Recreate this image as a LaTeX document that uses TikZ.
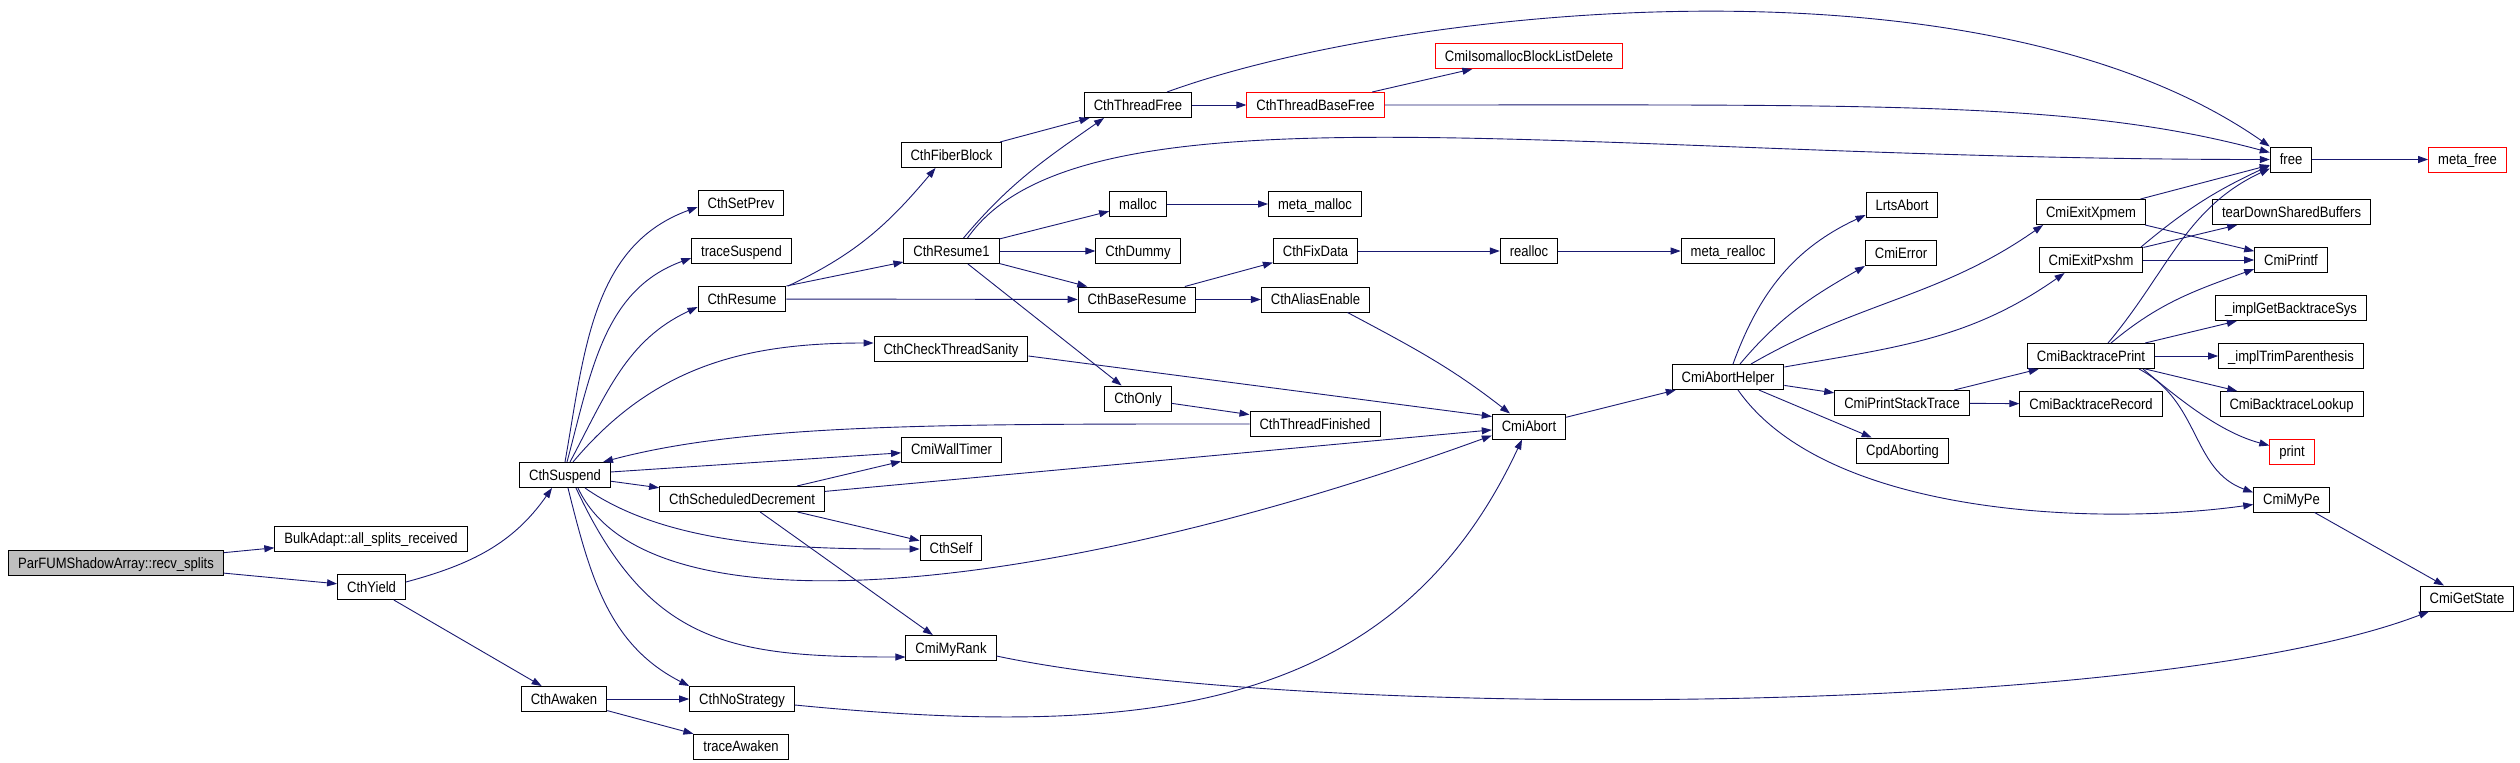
\documentclass[tikz,border=0pt]{standalone}
\usepackage{fontspec}
\setmainfont{Liberation Sans}[FakeStretch=0.87]
\usetikzlibrary{arrows.meta}
\definecolor{callblue}{RGB}{25,25,112}
\definecolor{rootgray}{RGB}{191,191,191}

\begin{document}
\begin{tikzpicture}[x=1pt, y=1pt, >={Triangle[length=10pt,width=7pt]}]
\tikzstyle{every node}=[rectangle, draw, line width=1pt, minimum height=25pt, inner xsep=9.5pt, inner ysep=0pt, text height=10.7pt, text depth=0pt, font=\fontsize{15}{18}\selectfont]
\tikzstyle{call}=[->, draw=callblue, line width=0.9pt]
\useasboundingbox (0,0) rectangle (2520,-763);
% functions, column by column
\draw node[fill=rootgray] (parfum) at (116,-563) {ParFUMShadowArray::recv\_splits};
\draw node (bulk) at (371,-538.5) {BulkAdapt::all\_splits\_received};
\draw node (yield) at (371.5,-587) {CthYield};
\draw node (suspend) at (565,-475) {CthSuspend};
\draw node (awaken) at (564,-699) {CthAwaken};
\draw node (setprev) at (741,-203) {CthSetPrev};
\draw node (tracesuspend) at (741.5,-251) {traceSuspend};
\draw node (resume) at (742,-299) {CthResume};
\draw node (sdecrement) at (742,-499) {CthScheduledDecrement};
\draw node (nostrategy) at (742,-699) {CthNoStrategy};
\draw node (traceawaken) at (741,-746.5) {traceAwaken};
\draw node (fiberblock) at (951.5,-155) {CthFiberBlock};
\draw node (resume1) at (951.5,-251) {CthResume1};
\draw node (sanity) at (951,-349) {CthCheckThreadSanity};
\draw node (walltimer) at (951.5,-449.5) {CmiWallTimer};
\draw node (cthself) at (951,-548) {CthSelf};
\draw node (myrank) at (951,-648) {CmiMyRank};
\draw node (threadfree) at (1138,-105) {CthThreadFree};
\draw node (malloc) at (1138,-204) {malloc};
\draw node (dummy) at (1138,-251) {CthDummy};
\draw node (baseresume) at (1137,-299.5) {CthBaseResume};
\draw node (only) at (1138,-398.5) {CthOnly};
\draw node[draw=red] (basefree) at (1315.5,-105) {CthThreadBaseFree};
\draw node (metamalloc) at (1315,-204) {meta\_malloc};
\draw node (fixdata) at (1315.5,-251) {CthFixData};
\draw node (aliasenable) at (1315.5,-299.5) {CthAliasEnable};
\draw node (finished) at (1315,-424) {CthThreadFinished};
\draw node[draw=red] (isodelete) at (1529,-56) {CmiIsomallocBlockListDelete};
\draw node (realloc) at (1529,-251) {realloc};
\draw node (abort) at (1529,-426.5) {CmiAbort};
\draw node (metarealloc) at (1728,-251) {meta\_realloc};
\draw node (aborthelper) at (1728,-377) {CmiAbortHelper};
\draw node (lrtsabort) at (1902,-205) {LrtsAbort};
\draw node (cmierror) at (1901,-253) {CmiError};
\draw node (stacktrace) at (1902,-403) {CmiPrintStackTrace};
\draw node (cpdaborting) at (1902.5,-450.5) {CpdAborting};
\draw node (exitxpmem) at (2091,-212) {CmiExitXpmem};
\draw node (exitpxshm) at (2091,-260) {CmiExitPxshm};
\draw node (btprint) at (2091,-356) {CmiBacktracePrint};
\draw node (btrecord) at (2091,-404) {CmiBacktraceRecord};
\draw node (free) at (2291,-159.5) {free};
\draw node (teardown) at (2291.5,-212) {tearDownSharedBuffers};
\draw node (printf) at (2291,-260) {CmiPrintf};
\draw node (getbtsys) at (2291,-308) {\_implGetBacktraceSys};
\draw node (trimparen) at (2291,-356) {\_implTrimParenthesis};
\draw node (btlookup) at (2291.5,-404) {CmiBacktraceLookup};
\draw node[draw=red] (print) at (2292,-451.5) {print};
\draw node (mype) at (2291.5,-499.5) {CmiMyPe};
\draw node[draw=red] (metafree) at (2467.5,-159.5) {meta\_free};
\draw node (getstate) at (2467,-598.5) {CmiGetState};
% calls
\draw[call] (parfum) to (bulk);
\draw[call] (parfum) to (yield);
\draw[call] ([yshift=5pt]yield.east) to[out=15,in=-125] ([xshift=-13pt]suspend.south);
\draw[call] (yield) to (awaken);
\draw[call] (awaken) to (nostrategy);
\draw[call] (awaken) to (traceawaken);
\draw[call] (suspend.north) to[out=80,in=200] ([yshift=-4pt]setprev.west);
\draw[call] ([xshift=2pt]suspend.north) to[out=75,in=200] ([yshift=-7pt]tracesuspend.west);
\draw[call] ([xshift=5pt]suspend.north) to[out=62,in=205] ([yshift=-8pt]resume.west);
\draw[call] ([xshift=8pt]suspend.north) to[out=50,in=180] ([yshift=6pt]sanity.west);
\draw[call] (finished.west) .. controls +(180:300) and +(15:150) .. ([xshift=38pt]suspend.north);
\draw[call] (suspend) to (walltimer);
\draw[call] (suspend) to (sdecrement);
\draw[call] ([xshift=20pt]suspend.south) to[out=-35,in=180,looseness=0.8] ([yshift=-1pt]cthself.west);
\draw[call] ([xshift=13pt]suspend.south) .. controls +(-65:170) and +(200:450) .. ([yshift=-9pt]abort.west);
\draw[call] ([xshift=11pt]suspend.south) to[out=-65,in=180,looseness=1.2] ([yshift=-9pt]myrank.west);
\draw[call] ([xshift=3pt]suspend.south) to[out=-76,in=153] (nostrategy.north west);
\draw[call] ([xshift=46pt]resume.north) to[out=25,in=-130] ([xshift=-16pt]fiberblock.south);
\draw[call] (resume.north east) to ([yshift=-11pt]resume1.west);
\draw[call] (resume) to (baseresume);
\draw[call] (fiberblock) to (threadfree);
\draw[call] ([xshift=12pt]resume1.north) to[out=50,in=-145] ([xshift=-34pt]threadfree.south);
\draw[call] ([xshift=16pt]resume1.north) .. controls +(55:200) and +(180:700) .. (free.west);
\draw[call] (resume1) to (malloc);
\draw[call] (resume1) to (dummy);
\draw[call] (resume1) to (baseresume);
\draw[call] (resume1) to (only);
\draw[call] (threadfree) to (basefree);
\draw[call] ([xshift=29pt]threadfree.north) .. controls +(20:250) and +(145:350) .. (free.north west);
\draw[call] (basefree) to (isodelete);
\draw[call] (basefree.east) .. controls +(0:500) and +(165:200) .. ([yshift=7pt]free.west);
\draw[call] (baseresume) to (fixdata);
\draw[call] (baseresume) to (aliasenable);
\draw[call] (fixdata) to (realloc);
\draw[call] (realloc) to (metarealloc);
\draw[call] (malloc) to (metamalloc);
\draw[call] ([xshift=32pt]aliasenable.south) to[out=-28,in=142] ([xshift=-19pt]abort.north);
\draw[call] ([yshift=-7pt]sanity.east) to ([yshift=10pt]abort.west);
\draw[call] (only) to (finished);
\draw[call] (sdecrement) to (walltimer);
\draw[call] (sdecrement) to (abort);
\draw[call] (sdecrement) to (cthself);
\draw[call] (sdecrement) to (myrank);
\draw[call] ([yshift=-8pt]myrank.east) .. controls +(-12:310) and +(201:300) .. ([xshift=-38pt]getstate.south);
\draw[call] ([yshift=-6pt]nostrategy.east) .. controls +(-5.6:356) and +(245:300) .. ([xshift=-7pt]abort.south);
\draw[call] (abort) to (aborthelper);
\draw[call] ([xshift=5pt]aborthelper.north) to[out=70,in=205] ([yshift=-10pt]lrtsabort.west);
\draw[call] ([xshift=12pt]aborthelper.north) to[out=50,in=210] (cmierror.south west);
\draw[call] ([xshift=23pt]aborthelper.north) to[out=30,in=215] ([xshift=7pt]exitxpmem.south west);
\draw[call] ([yshift=10pt]aborthelper.east) to[out=10,in=215] ([xshift=26pt]exitpxshm.south west);
\draw[call] (aborthelper) to (stacktrace);
\draw[call] (aborthelper) to (cpdaborting);
\draw[call] ([xshift=10pt]aborthelper.south) to[out=-55,in=188,looseness=0.75] ([yshift=-5pt]mype.west);
\draw[call] (stacktrace) to (btprint);
\draw[call] (stacktrace) to (btrecord);
\draw[call] (exitxpmem) to (free);
\draw[call] (exitxpmem) to (printf);
\draw[call] ([xshift=50pt]exitpxshm.north) to[out=40,in=205] ([yshift=-6pt]free.west);
\draw[call] (exitpxshm) to (teardown);
\draw[call] (exitpxshm) to (printf);
\draw[call] ([xshift=17pt]btprint.north) to[out=50,in=205] ([yshift=-9pt]free.west);
\draw[call] ([xshift=20pt]btprint.north) to[out=40,in=200] ([yshift=-9pt]printf.west);
\draw[call] (btprint) to (getbtsys);
\draw[call] (btprint) to (trimparen);
\draw[call] (btprint) to (btlookup);
\draw[call] ([xshift=52pt]btprint.south) .. controls +(-40:50) and +(165:50) .. ([yshift=6pt]print.west);
\draw[call] ([xshift=48pt]btprint.south) .. controls +(-28:70) and +(160:66) .. ([yshift=7pt]mype.west);
\draw[call] (mype) to (getstate);
\draw[call] (free) to (metafree);
\end{tikzpicture}
\end{document}
